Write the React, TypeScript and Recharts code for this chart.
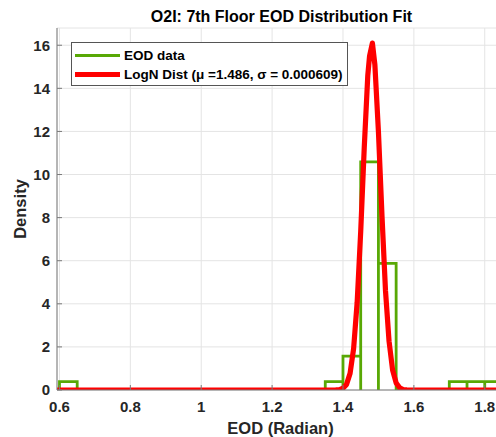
import { ComposedChart, Line, XAxis, YAxis, CartesianGrid, Legend } from "recharts";

const TITLE = "O2I: 7th Floor EOD Distribution Fit";
const X_LABEL = "EOD (Radian)";
const Y_LABEL = "Density";

const X_TICKS = [0.6, 0.8, 1, 1.2, 1.4, 1.6, 1.8];
const Y_TICKS = [0, 2, 4, 6, 8, 10, 12, 14, 16];

// histogram bins (left edge + density), width 0.05
const BIN_WIDTH = 0.05;
const BIN_LEFT = [0.6, 1.35, 1.4, 1.45, 1.5, 1.7, 1.75, 1.8];
const BIN_DENSITY = [0.39, 0.39, 1.57, 10.59, 5.88, 0.39, 0.39, 0.39];

// fitted pdf
const FIT_X = [
  0.59, 1.36, 1.38, 1.39, 1.4, 1.41, 1.42, 1.43, 1.44, 1.45, 1.46, 1.47, 1.475,
  1.483, 1.49, 1.5, 1.51, 1.52, 1.53, 1.54, 1.55, 1.56, 1.57, 1.58, 1.6, 1.86,
];
const FIT_Y = [
  0, 0, 0.005, 0.02, 0.08, 0.26, 0.77, 1.92, 4.07, 7.35, 11.25, 14.6, 15.5,
  16.1, 15.1, 12.0, 8.1, 4.6, 2.26, 0.93, 0.33, 0.1, 0.02, 0.004, 0, 0,
];

const HIST_NAME = "EOD data";
const FIT_NAME = "LogN Dist (\u03bc =1.486, \u03c3 = 0.000609)";

const histData = BIN_LEFT.flatMap((x0, i) => [
  { x: x0, y: 0 },
  { x: x0, y: BIN_DENSITY[i] },
  { x: x0 + BIN_WIDTH, y: BIN_DENSITY[i] },
  { x: x0 + BIN_WIDTH, y: 0 },
]);
const fitData = FIT_X.map((x, i) => ({ x, y: FIT_Y[i] }));

const FONT = '"Liberation Sans", Arial, sans-serif';
const TEXT = "#262626";
const AXIS = "#7a7a7a";
const GREEN = "#58a805";
const RED = "#ff0000";

function BottomTick({ x, y, payload }: any) {
  return (
    <g>
      <line x1={x} x2={x} y1={y} y2={y - 5} stroke={AXIS} />
      <text x={x} y={y + 22} textAnchor="middle" fill={TEXT} fontFamily={FONT} fontWeight="bold" fontSize={15}>
        {payload.value}
      </text>
    </g>
  );
}

function TopTick({ x, y }: any) {
  return <line x1={x} x2={x} y1={y} y2={y + 5} stroke={AXIS} />;
}

function LeftTick({ x, y, payload }: any) {
  return (
    <g>
      <line x1={x} x2={x + 5} y1={y} y2={y} stroke={AXIS} />
      <text x={x - 7} y={y + 5.4} textAnchor="end" fill={TEXT} fontFamily={FONT} fontWeight="bold" fontSize={15}>
        {payload.value}
      </text>
    </g>
  );
}

function XTitle({ viewBox }: any) {
  const { x, y, width } = viewBox;
  return (
    <text x={x + width / 2 - 1} y={y + 44} textAnchor="middle" fill={TEXT} fontFamily={FONT} fontWeight="bold" fontSize={16.5}>
      {X_LABEL}
    </text>
  );
}

function YTitle({ viewBox }: any) {
  const { y, height } = viewBox;
  const cx = 25.5;
  const cy = y + height / 2;
  return (
    <text x={cx} y={cy} transform={`rotate(-90, ${cx}, ${cy})`} textAnchor="middle" fill={TEXT} fontFamily={FONT} fontWeight="bold" fontSize={16.5}>
      {Y_LABEL}
    </text>
  );
}

function BoxLegend({ payload }: any) {
  return (
    <div
      style={{
        border: "1px solid #555",
        background: "#fff",
        padding: "3.4px 4px 1.4px 3px",
        fontFamily: FONT,
        fontWeight: "bold",
        fontSize: 13.5,
        color: "#000",
        whiteSpace: "nowrap",
      }}
    >
      {(payload || []).map((p: any) => (
        <div key={p.value} style={{ display: "flex", alignItems: "center", height: 18.6 }}>
          <span
            style={{
              display: "inline-block",
              width: 45,
              height: p.color === RED ? 5 : 3,
              background: p.color,
              marginRight: 4,
            }}
          />
          <span>{p.value}</span>
        </div>
      ))}
    </div>
  );
}

export default function App() {
  return (
    <div style={{ position: "fixed", left: 0, top: 0, width: 496, height: 437, overflow: "hidden", background: "#fff" }}>
      <div
        style={{
          position: "absolute",
          left: 57,
          width: 449,
          top: 9,
          lineHeight: "16px",
          textAlign: "center",
          fontFamily: FONT,
          fontWeight: "bold",
          fontSize: 16,
          color: "#000",
          whiteSpace: "nowrap",
        }}
      >
        {TITLE}
      </div>
      <ComposedChart width={521} height={437} margin={{ top: 28, right: 15, bottom: 0, left: 0 }}>
        <CartesianGrid stroke="#e4e4e4" />
        <XAxis
          dataKey="x"
          type="number"
          domain={[0.593, 1.86]}
          allowDataOverflow
          ticks={X_TICKS}
          interval={0}
          height={47}
          tickSize={0}
          tickMargin={0}
          tickLine={false}
          tick={<BottomTick />}
          axisLine={{ stroke: AXIS }}
          label={<XTitle />}
        />
        <XAxis
          xAxisId="top"
          orientation="top"
          dataKey="x"
          type="number"
          domain={[0.593, 1.86]}
          allowDataOverflow
          ticks={X_TICKS}
          interval={0}
          height={0}
          tickSize={0}
          tickMargin={0}
          tickLine={false}
          tick={<TopTick />}
          axisLine={{ stroke: AXIS }}
        />
        <YAxis
          type="number"
          domain={[0, 16.8]}
          allowDataOverflow
          ticks={Y_TICKS}
          interval={0}
          width={57}
          tickSize={0}
          tickMargin={0}
          tickLine={false}
          tick={<LeftTick />}
          axisLine={{ stroke: AXIS }}
          label={<YTitle />}
        />
        <Legend
          layout="vertical"
          align="center"
          verticalAlign="middle"
          wrapperStyle={{ left: 71, top: 42, width: "auto", height: "auto" }}
          content={<BoxLegend />}
        />
        <Line
          data={histData}
          dataKey="y"
          name={HIST_NAME}
          type="linear"
          stroke={GREEN}
          strokeWidth={2.8}
          dot={false}
          activeDot={false}
          isAnimationActive={false}
        />
        <Line
          data={fitData}
          dataKey="y"
          name={FIT_NAME}
          type="linear"
          stroke={RED}
          strokeWidth={5.2}
          strokeLinejoin="round"
          dot={false}
          activeDot={false}
          isAnimationActive={false}
        />
      </ComposedChart>
    </div>
  );
}
